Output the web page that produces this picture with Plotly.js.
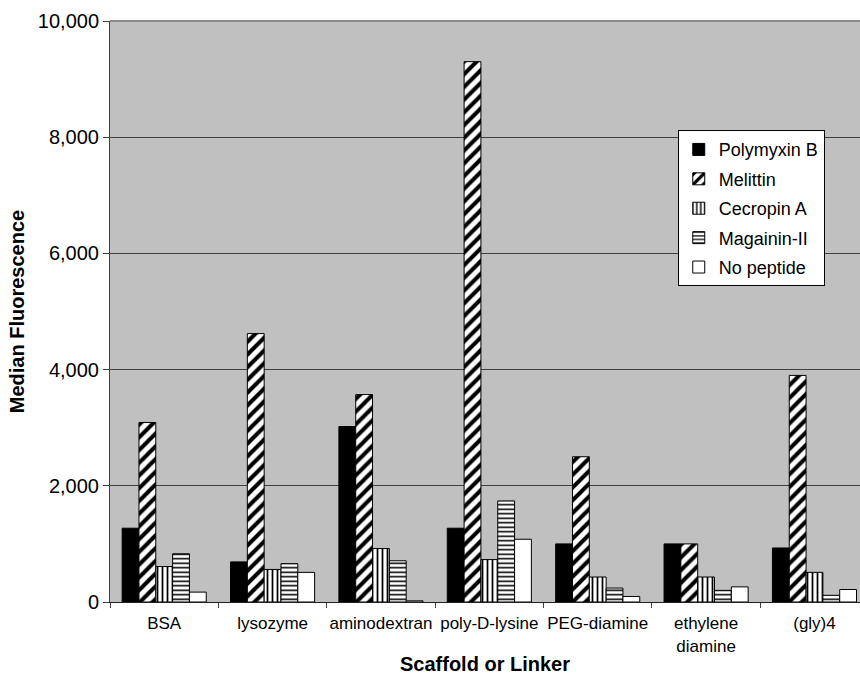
<!DOCTYPE html>
<html>
<head>
<meta charset="utf-8">
<script src="https://cdn.plot.ly/plotly-3.0.1.min.js"></script>
<style>
  html, body { margin: 0; padding: 0; background: #ffffff; }
  #chart { width: 860px; height: 675px; }
</style>
</head>
<body>
<div id="chart"></div>
<script>
// Scaffolds / linkers on the category axis
const categories = ["BSA", "lysozyme", "aminodextran", "poly-D-lysine", "PEG-diamine", "ethylene<br>diamine", "(gly)4"];

// Median fluorescence per peptide
const polymyxinB = [1270, 690, 3020, 1270, 1000, 1000, 930];
const melittin   = [3090, 4620, 3570, 9300, 2500, 1000, 3900];
const cecropinA  = [610, 560, 920, 730, 430, 430, 510];
const magaininII = [830, 660, 710, 1740, 240, 200, 115];
const noPeptide  = [170, 510, 20, 1080, 95, 260, 215];

const seriesNames = ["Polymyxin B", "Melittin", "Cecropin A", "Magainin-II", "No peptide"];
const seriesValues = [polymyxinB, melittin, cecropinA, magaininII, noPeptide];

// Fill style per series: solid black, diagonal hatch, vertical lines, horizontal lines, white
const fills = [
  { color: "#000000", pattern: null },
  { color: "#ffffff", pattern: { shape: "/", size: 9, solidity: 0.45, fgcolor: "#000000", bgcolor: "#ffffff" } },
  { color: "#ffffff", pattern: { shape: "|", size: 5, solidity: 0.35, fgcolor: "#000000", bgcolor: "#ffffff" } },
  { color: "#ffffff", pattern: { shape: "-", size: 4.5, solidity: 0.35, fgcolor: "#000000", bgcolor: "#ffffff" } },
  { color: "#ffffff", pattern: null }
];

const FONT = "Liberation Sans, Arial, Helvetica, sans-serif";

const traces = seriesNames.map((name, i) => {
  const marker = { color: fills[i].color, line: { color: "#000000", width: 1 } };
  if (fills[i].pattern) marker.pattern = fills[i].pattern;
  return {
    type: "bar",
    name: name,
    x: categories,
    y: seriesValues[i],
    marker: marker,
    legendgroup: "g" + i
  };
});

const layout = {
  width: 860,
  height: 675,
  margin: { l: 110, r: 0, t: 21, b: 73 },
  paper_bgcolor: "#ffffff",
  plot_bgcolor: "#c0c0c0",
  barmode: "group",
  bargap: 0.224,
  bargroupgap: 0,
  font: { family: FONT, color: "#000000" },
  xaxis: {
    type: "category",
    range: [-0.5, 6.42],
    tickson: "boundaries",
    tickangle: 0,
    ticks: "outside",
    ticklen: 5,
    tickcolor: "#404040",
    showline: true,
    linecolor: "#202020",
    linewidth: 1,
    showgrid: false,
    ticklabelstandoff: 6,
    tickfont: { family: FONT, size: 17, color: "#000000" },
    title: { text: "<b>Scaffold or Linker</b>", font: { family: FONT, size: 20, color: "#000000" }, standoff: 18 }
  },
  yaxis: {
    range: [0, 10000],
    dtick: 2000,
    tickformat: ",d",
    ticks: "outside",
    ticklen: 6,
    tickcolor: "#404040",
    showline: true,
    linecolor: "#404040",
    linewidth: 1,
    showgrid: true,
    gridcolor: "#404040",
    gridwidth: 1,
    zeroline: false,
    tickfont: { family: FONT, size: 20, color: "#000000" },
    title: { text: "<b>Median Fluorescence</b>", font: { family: FONT, size: 20, color: "#000000" }, standoff: 7 }
  },
  legend: {
    x: 0.953,
    xanchor: "right",
    y: 0.812,
    yanchor: "top",
    bgcolor: "#ffffff",
    bordercolor: "#000000",
    borderwidth: 1,
    tracegroupgap: 3,
    font: { family: FONT, size: 18, color: "#000000" }
  },
  shapes: [
    { type: "line", xref: "paper", yref: "paper", x0: 0, x1: 1, y0: 1, y1: 1,
      line: { color: "#8c8c8c", width: 2 } }
  ],
  showlegend: true
};

Plotly.newPlot("chart", traces, layout, { displayModeBar: false, staticPlot: true });
</script>
</body>
</html>
